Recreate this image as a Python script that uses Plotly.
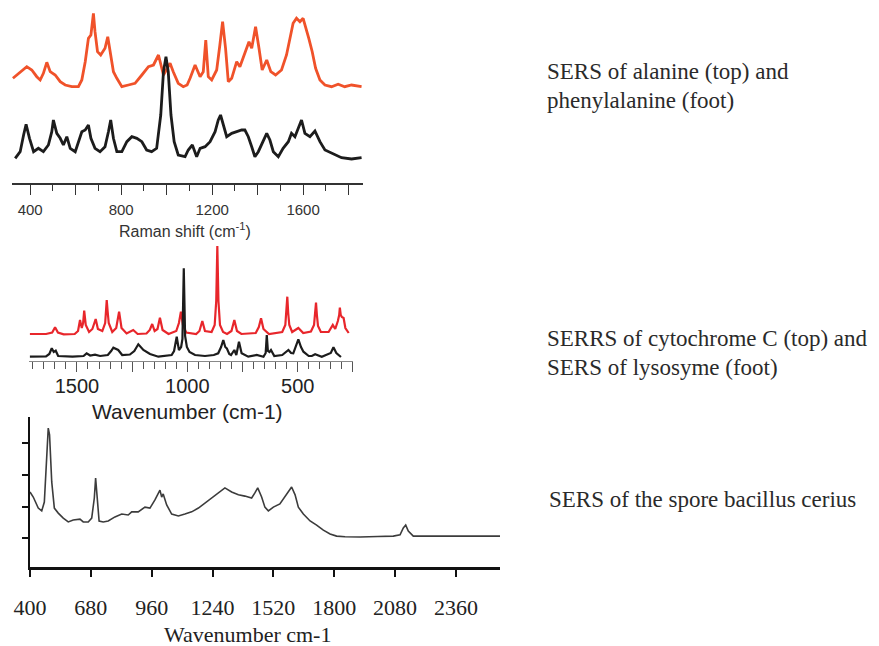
import plotly.graph_objects as go

# ---------------- Panel 1: SERS of alanine (top) and phenylalanine (foot) ----------------
ala_shift = [324, 342, 364, 385, 407, 429, 444, 458, 473, 488, 510, 532, 554, 583, 612, 627, 642, 656, 667, 678,
             685, 696, 710, 729, 741, 751, 766, 781, 803, 832, 861, 891, 920, 942, 964, 986, 1000, 1015, 1029, 1051,
             1073, 1090, 1103, 1125, 1147, 1161, 1172, 1183, 1198, 1220, 1234, 1246, 1259, 1271, 1286, 1308, 1322,
             1344, 1362, 1374, 1391, 1406, 1420, 1440, 1458, 1479, 1505, 1527, 1542, 1556, 1571, 1586, 1600, 1611,
             1625, 1640, 1655, 1674, 1696, 1725, 1754, 1783, 1813, 1857]
ala_int = [104.7, 108, 113, 116.3, 113, 106.3, 103, 109.7, 120.7, 111.3, 108, 101.3, 98, 96.3, 96.3, 103, 121.3,
           144.7, 148, 169.7, 151.3, 131.3, 128, 134.7, 146.3, 131.3, 111.3, 104.7, 96.3, 98, 99.7, 108, 116.3, 118,
           128, 108, 113, 119.7, 111.3, 99.7, 96.3, 98, 104.7, 118, 106.3, 111.3, 143, 106.3, 103, 113, 138, 161.3,
           134.7, 101.3, 104.7, 121.3, 116.3, 131.3, 141.3, 134.7, 156.3, 134.7, 113, 123, 111.3, 108, 113, 128,
           146.3, 159.7, 164.7, 161.3, 164.7, 156.3, 144.7, 131.3, 114.7, 103, 98, 96.3, 98.7, 96.3, 98, 96.3]

phe_shift = [334, 356, 371, 382, 397, 415, 436, 458, 480, 495, 502, 517, 532, 546, 561, 576, 598, 612, 627, 642,
             656, 667, 685, 707, 729, 744, 754, 766, 781, 803, 825, 847, 869, 891, 912, 934, 956, 974, 986, 997,
             1007, 1019, 1033, 1051, 1081, 1095, 1113, 1132, 1147, 1169, 1191, 1213, 1227, 1237, 1249, 1264, 1286,
             1308, 1330, 1344, 1359, 1374, 1388, 1403, 1425, 1440, 1454, 1469, 1491, 1512, 1535, 1549, 1564, 1583,
             1593, 1608, 1630, 1652, 1674, 1696, 1725, 1769, 1813, 1857]
phe_int = [24.7, 31.3, 48, 58.7, 44.7, 31.3, 34.7, 31.3, 38, 51.3, 63, 49.7, 44.7, 38, 46.3, 34.7, 31.3, 41.3, 51.3,
           53, 58, 44.7, 34.7, 31.3, 36.3, 51.3, 63, 44.7, 31.3, 31.3, 41.3, 46.3, 44.7, 41.3, 33, 31.3, 34.7, 68,
           111.3, 126.3, 111.3, 68, 41.3, 28, 26.3, 33, 38, 26.3, 34.7, 36.3, 41.3, 51.3, 63, 68, 58, 46.3, 49.7,
           51.3, 53, 53, 46.3, 36.3, 26.3, 31.3, 41.3, 49.7, 43, 31.3, 26.3, 34.7, 41.3, 49.7, 46.3, 58, 63, 49.7,
           46.3, 52, 41.3, 33, 29.7, 25.3, 24, 25.3]

raman_label_ticks = [400, 800, 1200, 1600]
raman_long_ticks = [400, 600, 800, 1000, 1200, 1400, 1600, 1800]

# ---------------- Panel 2: SERRS of cytochrome C (top) and SERS of lysosyme (foot) ----------------
cyt_wn = [1713, 1640, 1612, 1599, 1586, 1560, 1510, 1495, 1486, 1478, 1472, 1467, 1460, 1445, 1430, 1415, 1405,
          1385, 1372, 1368, 1365, 1361, 1356, 1340, 1322, 1309, 1298, 1275, 1245, 1225, 1185, 1170, 1159, 1148,
          1135, 1124, 1112, 1085, 1050, 1038, 1029, 1020, 1005, 960, 945, 932, 920, 890, 876, 869, 864, 859, 852,
          838, 820, 800, 787, 775, 755, 690, 676, 666, 655, 630, 570, 556, 551, 547, 543, 538, 525, 497, 475, 440,
          426, 421, 417, 413, 408, 395, 360, 341, 330, 318, 312, 309, 305, 300, 292, 284, 269]
cyt_int = [27, 27, 28.5, 33.7, 28.5, 26.7, 27, 30, 41, 33, 38, 50.3, 36, 29, 32, 42, 32, 30, 38, 50, 61, 50, 38, 29,
           33, 49.3, 33, 27.5, 31, 27, 27.5, 31, 37, 30, 32, 43.3, 31, 27, 30, 38, 49.3, 36, 28.5, 27, 30, 40, 30,
           29, 36, 60, 115, 60, 36, 29, 27, 30, 41, 30, 27, 28, 34, 42.7, 32, 27, 29, 36, 48, 64.3, 48, 36, 29, 33,
           28, 29.5, 36, 46, 58.3, 46, 35, 29, 29, 36, 32, 40, 46, 53.3, 46, 44, 43, 33, 28]

lys_wn = [1713, 1640, 1625, 1614, 1605, 1596, 1585, 1520, 1470, 1456, 1440, 1418, 1395, 1360, 1345, 1335, 1313,
          1295, 1260, 1240, 1222, 1199, 1169, 1131, 1071, 1060, 1048, 1038, 1028, 1022, 1016, 1010, 1002, 990, 965,
          920, 880, 860, 847, 837, 828, 821, 810, 802, 787, 778, 766, 754, 724, 686, 655, 645, 640, 635, 628, 621,
          606, 570, 542, 530, 520, 508, 497, 485, 474, 450, 436, 421, 391, 350, 338, 325, 316, 304]
lys_int = [4.3, 4.5, 7, 12.7, 9, 10.3, 5, 4.3, 5, 7.7, 5.5, 6.3, 5, 6, 10, 13.3, 11, 6, 6.5, 10, 16.7, 11, 7, 4.3,
           6, 10, 24.3, 11, 14, 22, 92.7, 25, 14, 9, 6, 5, 6, 7.7, 14, 21, 14, 12.7, 7, 6, 11, 6, 19.3, 7.7, 4.3, 6,
           4.3, 8, 26, 10, 9, 11, 5, 6, 11, 8, 7.7, 15, 21.7, 14, 9.3, 5, 5, 6.7, 4.3, 8, 13.7, 8, 6, 4]

wn2_label_ticks = [1500, 1000, 500]
wn2_long_ticks = [1500, 1250, 1000, 750, 500, 250]

# ---------------- Panel 3: SERS of the spore bacillus cerius ----------------
spore_wn = [400, 415, 438, 454, 466, 477, 484, 490, 500, 512, 530, 553, 576, 599, 630, 645, 668, 684, 696, 702,
            708, 718, 737, 760, 791, 822, 852, 868, 898, 929, 952, 975, 998, 1006, 1013, 1029, 1052, 1083, 1113,
            1144, 1175, 1205, 1236, 1267, 1297, 1328, 1359, 1389, 1420, 1435, 1448, 1466, 1481, 1497, 1520, 1550,
            1581, 1604, 1620, 1635, 1658, 1689, 1719, 1750, 1781, 1811, 1850, 1919, 2000, 2072, 2103, 2118, 2129,
            2141, 2164, 2250, 2400, 2563]
spore_int = [2.46, 2.30, 1.95, 1.86, 2.14, 3.63, 4.49, 4.27, 2.78, 1.95, 1.79, 1.63, 1.51, 1.57, 1.60, 1.51, 1.51,
             1.63, 2.27, 2.90, 2.27, 1.54, 1.51, 1.54, 1.67, 1.76, 1.73, 1.83, 1.83, 1.98, 1.95, 2.21, 2.52, 2.30,
             2.40, 2.05, 1.76, 1.70, 1.76, 1.83, 1.95, 2.11, 2.27, 2.46, 2.59, 2.46, 2.37, 2.33, 2.27, 2.43, 2.59,
             2.30, 1.98, 1.86, 1.98, 2.08, 2.37, 2.62, 2.37, 1.98, 1.76, 1.54, 1.41, 1.25, 1.13, 1.06, 1.04, 1.03,
             1.05, 1.06, 1.10, 1.32, 1.41, 1.22, 1.06, 1.06, 1.05, 1.06]

wn3_ticks = [400, 680, 960, 1240, 1520, 1800, 2080, 2360]
spore_yticks = [1, 2, 3, 4]

# ---------------- Texts ----------------
title1 = "Raman shift (cm<sup>-1</sup>)"
title2 = "Wavenumber (cm-1)"
title3 = "Wavenumber cm-1"
caption_lines = [
    "SERS of alanine (top) and",
    "phenylalanine (foot)",
    "SERRS of cytochrome C (top) and",
    "SERS of lysosyme (foot)",
    "SERS of the spore bacillus cerius",
]

# ---------------- Figure ----------------
W, H = 879, 646


def fx(p):
    return p / W


def fy(p):
    return 1 - p / H


SANS = "Liberation Sans, Arial, sans-serif"
SERIF = "Liberation Serif, Times New Roman, serif"

fig = go.Figure()
fig.add_trace(go.Scatter(x=ala_shift, y=ala_int, mode="lines", line=dict(color="#f0522a", width=2.8),
                         xaxis="x", yaxis="y", hoverinfo="skip", showlegend=False))
fig.add_trace(go.Scatter(x=phe_shift, y=phe_int, mode="lines", line=dict(color="#1c1c1c", width=2.8),
                         xaxis="x", yaxis="y", hoverinfo="skip", showlegend=False))
fig.add_trace(go.Scatter(x=cyt_wn, y=cyt_int, mode="lines", line=dict(color="#e8262b", width=2.2),
                         xaxis="x2", yaxis="y2", hoverinfo="skip", showlegend=False))
fig.add_trace(go.Scatter(x=lys_wn, y=lys_int, mode="lines", line=dict(color="#1c1c1c", width=2.2),
                         xaxis="x2", yaxis="y2", hoverinfo="skip", showlegend=False))
fig.add_trace(go.Scatter(x=spore_wn, y=spore_int, mode="lines", line=dict(color="#3c3c3c", width=1.6),
                         xaxis="x3", yaxis="y3", hoverinfo="skip", showlegend=False))
# empty traces so the overlay tick axes are drawn
fig.add_trace(go.Scatter(x=[], y=[], xaxis="x4", yaxis="y", hoverinfo="skip", showlegend=False))
fig.add_trace(go.Scatter(x=[], y=[], xaxis="x5", yaxis="y2", hoverinfo="skip", showlegend=False))

annotations = [
    dict(text=title1, x=fx(185), y=fy(230), font=dict(family=SANS, size=16, color="#333")),
    dict(text=title2, x=fx(187), y=fy(411), font=dict(family=SANS, size=21, color="#222")),
    dict(text=title3, x=fx(247), y=fy(634), font=dict(family=SERIF, size=22, color="#222")),
]
cap_pos = [(545, 72), (545, 100), (545, 339), (545, 367), (547, 499)]
for txt, (cx, cy) in zip(caption_lines, cap_pos):
    annotations.append(dict(text=txt, x=fx(cx), y=fy(cy), xanchor="left",
                            font=dict(family=SERIF, size=23, color="#2a2a2a")))
for a in annotations:
    a.update(xref="paper", yref="paper", showarrow=False, yanchor="middle")
    a.setdefault("xanchor", "center")

common = dict(showgrid=False, zeroline=False, automargin=False)
hidden_y = dict(showline=False, ticks="", showticklabels=False, title=dict(text=""), **common)

fig.update_layout(
    width=W, height=H, autosize=False,
    margin=dict(l=0, r=0, t=0, b=0, pad=0),
    paper_bgcolor="white", plot_bgcolor="white",
    showlegend=False,
    annotations=annotations,
    xaxis=dict(domain=[fx(12), fx(362.7)], range=[320, 1862], anchor="y",
               showline=True, linecolor="#333", linewidth=1.5,
               ticks="outside", ticklen=6, tickwidth=1.2, tickcolor="#333",
               tickvals=raman_label_ticks, ticklabelstandoff=6,
               tickfont=dict(family=SANS, size=15, color="#333"),
               minor=dict(dtick=100, tick0=0, ticks="outside", ticklen=6, tickwidth=1.2, tickcolor="#333"),
               **common),
    xaxis4=dict(domain=[fx(12), fx(362.7)], range=[320, 1862], anchor="y", overlaying="x",
                showline=False, ticks="outside", ticklen=11, tickwidth=1.3, tickcolor="#333",
                tickvals=raman_long_ticks, showticklabels=False, **common),
    yaxis=dict(domain=[fy(183), fy(5)], range=[0, 178], anchor="x", **hidden_y),
    xaxis2=dict(domain=[fx(28.8), fx(353.1)], range=[1718, 249], anchor="y2",
                showline=True, linecolor="#888", linewidth=1,
                ticks="outside", ticklen=7, tickwidth=1, tickcolor="#555",
                tickvals=wn2_label_ticks, ticklabelstandoff=0,
                tickfont=dict(family=SANS, size=20, color="#222"),
                minor=dict(dtick=50, tick0=0, ticks="outside", ticklen=7, tickwidth=1, tickcolor="#555"),
                **common),
    xaxis5=dict(domain=[fx(28.8), fx(353.1)], range=[1718, 249], anchor="y2", overlaying="x2",
                showline=False, ticks="outside", ticklen=10, tickwidth=1.2, tickcolor="#555",
                tickvals=wn2_long_ticks, showticklabels=False, **common),
    yaxis2=dict(domain=[fy(361), fy(241)], range=[0, 120], anchor="x2", **hidden_y),
    xaxis3=dict(domain=[fx(30), fx(500)], range=[400, 2563], anchor="y3",
                showline=True, linecolor="#111", linewidth=3,
                ticks="outside", ticklen=7, tickwidth=1.5, tickcolor="#111",
                tickvals=wn3_ticks, ticklabelstandoff=12,
                tickfont=dict(family=SERIF, size=22, color="#222"), **common),
    yaxis3=dict(domain=[fy(567), fy(417)], range=[0.08, 4.84], anchor="x3",
                showline=True, linecolor="#111", linewidth=2,
                ticks="outside", ticklen=6, tickwidth=1.5, tickcolor="#111",
                tickvals=spore_yticks, showticklabels=False, **common),
)

fig.write_html("out.html")
